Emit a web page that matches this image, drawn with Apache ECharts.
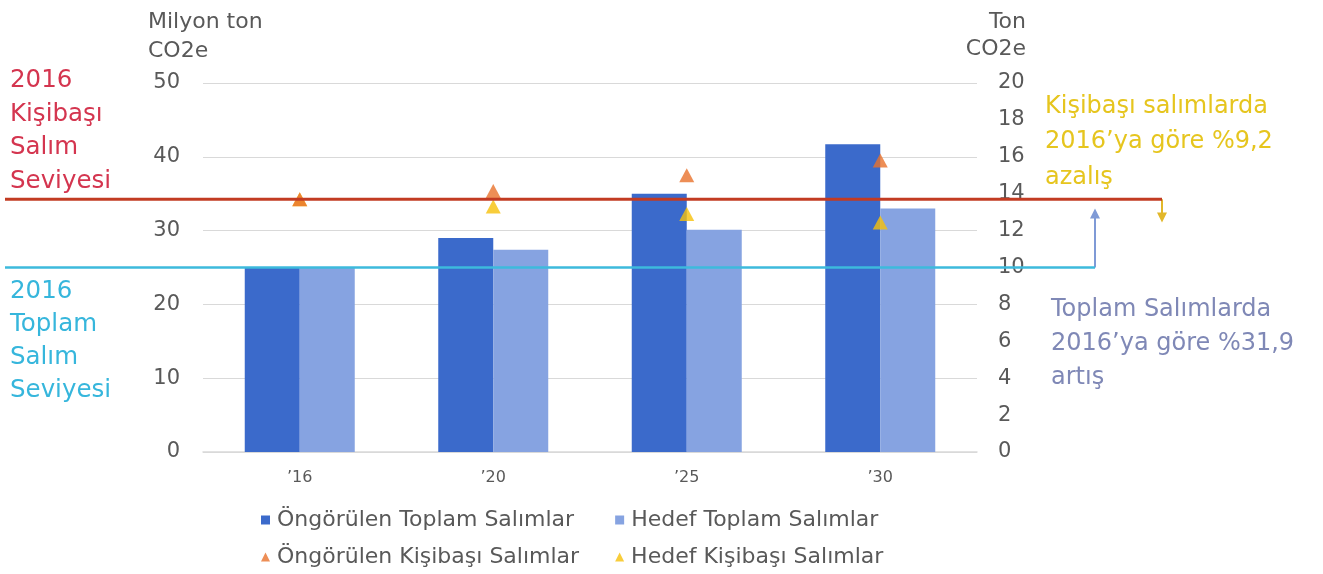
<!DOCTYPE html>
<html>
<head>
<meta charset="utf-8">
<script src="https://cdn.jsdelivr.net/npm/echarts@6/dist/echarts.min.js"></script>
<style>
  html, body { margin: 0; padding: 0; background: #ffffff; }
  #chart { width: 1323px; height: 574px; }
</style>
</head>
<body>
<div id="chart"></div>
<script>
// Years on the category axis
const categories = ['\u201916', '\u201920', '\u201925', '\u201930'];

// Total emissions, million tonnes CO2e (left axis)
const projectedTotal = [25.0, 29.0, 35.0, 41.7];
const targetTotal = [25.0, 27.4, 30.1, 32.98];

// Per-capita emissions, tonnes CO2e (right axis)
const projectedPerCapita = [13.7, 14.15, 15.0, 15.8];
const targetPerCapita = [13.7, 13.3, 12.9, 12.44];

// 2016 reference levels
const baseTotal2016 = 25.0;
const basePerCapita2016 = 13.7;

// Axis ranges
const leftAxisMax = 50, leftAxisStep = 10;
const rightAxisMax = 20, rightAxisStep = 2;

const seriesNames = [
  'Öngörülen Toplam Salımlar',
  'Hedef Toplam Salımlar',
  'Öngörülen Kişibaşı Salımlar',
  'Hedef Kişibaşı Salımlar'
];

const FONT = '"DejaVu Sans", sans-serif';
const GREY = '#595959';

const chart = echarts.init(document.getElementById('chart'), null, { renderer: 'canvas' });

const legendText = {
  fontFamily: FONT, fontSize: 22, color: GREY,
  padding: [0, 0, 0, 2]
};

const option = {
  backgroundColor: '#ffffff',
  animation: false,
  textStyle: { fontFamily: FONT },
  grid: { left: 203, right: 346, top: 83, bottom: 122, containLabel: false },
  legend: [
    {
      data: [seriesNames[0], seriesNames[1]],
      left: 256, top: 504,
      icon: 'rect', itemWidth: 9, itemHeight: 9, itemGap: 41,
      textStyle: legendText
    },
    {
      data: [seriesNames[2], seriesNames[3]],
      left: 256, top: 541,
      icon: 'triangle', itemWidth: 9, itemHeight: 9, itemGap: 36,
      textStyle: legendText
    }
  ],
  xAxis: {
    type: 'category',
    data: categories,
    axisLine: { lineStyle: { color: '#d9d9d9', width: 1.5 } },
    axisTick: { show: false },
    axisLabel: { color: GREY, fontSize: 16, margin: 18, fontFamily: FONT }
  },
  yAxis: [
    {
      type: 'value', min: 0, max: leftAxisMax, interval: leftAxisStep,
      axisLine: { show: false }, axisTick: { show: false },
      axisLabel: { color: GREY, fontSize: 21, margin: 23, fontFamily: FONT },
      splitLine: { lineStyle: { color: '#d9d9d9', width: 1.2 } }
    },
    {
      type: 'value', min: 0, max: rightAxisMax, interval: rightAxisStep,
      axisLine: { show: false }, axisTick: { show: false },
      axisLabel: { color: GREY, fontSize: 21, margin: 21, fontFamily: FONT },
      splitLine: { show: false }
    }
  ],
  series: [
    {
      name: seriesNames[0], type: 'bar', yAxisIndex: 0,
      data: projectedTotal, barWidth: 55, barGap: '0%',
      itemStyle: { color: '#3b6acb' }
    },
    {
      name: seriesNames[1], type: 'bar', yAxisIndex: 0,
      data: targetTotal, barWidth: 55,
      itemStyle: { color: '#86a3e1' }
    },
    {
      name: seriesNames[2], type: 'scatter', yAxisIndex: 1,
      data: projectedPerCapita, symbol: 'triangle', symbolSize: [15, 14], z: 6,
      itemStyle: { color: '#e8722c' }
    },
    {
      name: seriesNames[3], type: 'scatter', yAxisIndex: 1,
      data: targetPerCapita, symbol: 'triangle', symbolSize: [15, 14], z: 5,
      itemStyle: { color: '#f6c10a' }
    }
  ]
};

chart.setOption(option);

// Multi-line annotation text blocks
function textBlock(id, lines, x, top, size, lineHeight, color, align) {
  return {
    type: 'text', id: id, z: 110,
    style: {
      text: lines.join('\n'), x: x, y: top,
      font: size + 'px ' + FONT, fill: color,
      lineHeight: lineHeight, align: align || 'left', verticalAlign: 'top'
    }
  };
}

// Arrow head with its tip at (x, tipY); dir 1 points down, -1 points up
function arrowHead(id, x, tipY, dir, color) {
  const w = 5, h = 10;
  const baseY = tipY - dir * h;
  return {
    type: 'polygon', id: id, z: 121,
    shape: { points: [[x, tipY], [x - w, baseY], [x + w, baseY]] },
    style: { fill: color }
  };
}

// 2016 reference levels and change arrows, placed through the axes' scales
const yPerCapBase = chart.convertToPixel({ yAxisIndex: 1 }, basePerCapita2016);
const yPerCapTarget = chart.convertToPixel({ yAxisIndex: 1 }, targetPerCapita[targetPerCapita.length - 1]);
const yTotalBase = chart.convertToPixel({ yAxisIndex: 0 }, baseTotal2016);
const yTotalTarget = chart.convertToPixel({ yAxisIndex: 0 }, targetTotal[targetTotal.length - 1]);

const redX0 = 5, redX1 = 1162;
const cyanX0 = 5, cyanX1 = 1095;

const graphics = [
  textBlock('unitLeft', ['Milyon ton', 'CO2e'], 148, 8, 22, 29, GREY, 'left'),
  textBlock('unitRight', ['Ton', 'CO2e'], 1026, 9, 22, 27, GREY, 'right'),
  textBlock('perCapLabel', ['2016', 'Kişibaşı', 'Salım', 'Seviyesi'], 10, 64, 24.5, 33.5, '#d4354f'),
  textBlock('totalLabel', ['2016', 'Toplam', 'Salım', 'Seviyesi'], 10, 275, 24.5, 33, '#36b6dc'),
  textBlock('perCapNote', ['Kişibaşı salımlarda', '2016\u2019ya göre %9,2', 'azalış'], 1045, 89, 24, 35.5, '#e6c51e'),
  textBlock('totalNote', ['Toplam Salımlarda', '2016\u2019ya göre %31,9', 'artış'], 1051, 293, 24, 34, '#7f88b6'),

  // 2016 per-capita level
  {
    type: 'polyline', id: 'perCapLine', z: 120,
    shape: { points: [[redX0, yPerCapBase], [redX1, yPerCapBase]] },
    style: { stroke: '#c23b22', lineWidth: 3, fill: null }
  },
  {
    type: 'polyline', id: 'perCapDrop', z: 119,
    shape: { points: [[redX1, yPerCapBase], [redX1, yPerCapTarget - 8]] },
    style: { stroke: '#e2b72a', lineWidth: 2, fill: null }
  },
  arrowHead('perCapHead', redX1, yPerCapTarget, 1, '#e2b72a'),

  // 2016 total level
  {
    type: 'polyline', id: 'totalLine', z: 120,
    shape: { points: [[cyanX0, yTotalBase], [cyanX1, yTotalBase]] },
    style: { stroke: '#3dbadc', lineWidth: 2.5, fill: null }
  },
  {
    type: 'polyline', id: 'totalRise', z: 119,
    shape: { points: [[cyanX1, yTotalBase], [cyanX1, yTotalTarget + 8]] },
    style: { stroke: '#7f9ad6', lineWidth: 2, fill: null }
  },
  arrowHead('totalHead', cyanX1, yTotalTarget, -1, '#7f9ad6')
];

chart.setOption({ graphic: graphics });
</script>
</body>
</html>
